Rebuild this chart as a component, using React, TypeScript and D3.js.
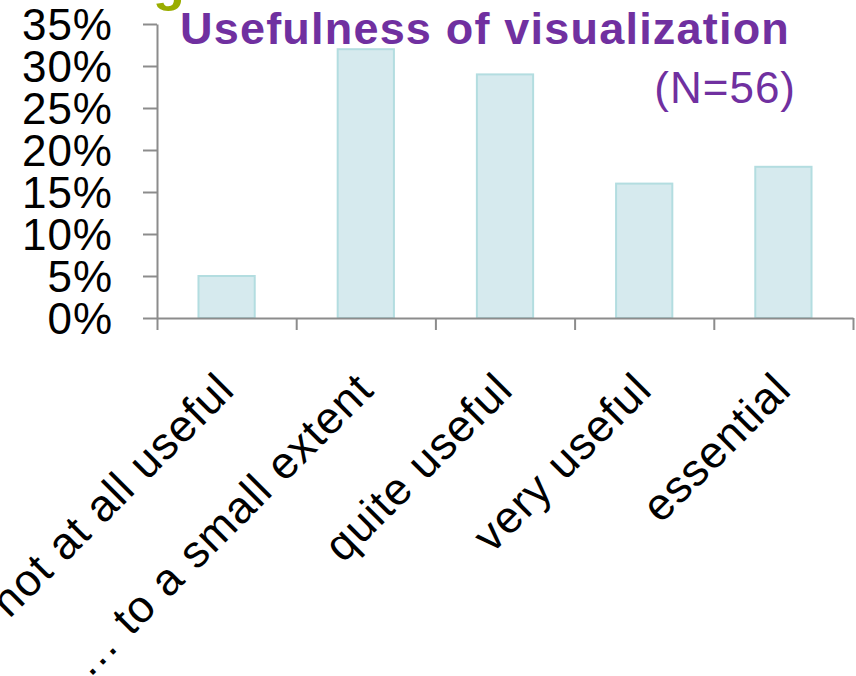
import React, { useEffect, useRef } from "react";
import * as d3 from "d3";

const categories = [
  "not at all useful",
  "… to a small extent",
  "quite useful",
  "very useful",
  "essential",
];
const shares = [0.05, 0.32, 0.29, 0.16, 0.18];
const yTicks = [0, 0.05, 0.1, 0.15, 0.2, 0.25, 0.3, 0.35];

const width = 856;
const height = 676;
const margin = { top: 24, right: 3, bottom: 358, left: 157 };
const font = "'Liberation Sans', Arial, sans-serif";
const purple = "#7030a0";
const axisColor = "#8c8c8c";

export default function App() {
  const svgRef = useRef<SVGSVGElement>(null);

  useEffect(() => {
    const svg = d3.select(svgRef.current);
    svg.selectAll("*").remove();

    const plotW = width - margin.left - margin.right;
    const plotH = height - margin.top - margin.bottom;

    const g = svg
      .append("g")
      .attr("transform", `translate(${margin.left},${margin.top})`);

    const y = d3.scaleLinear().domain([0, 0.35]).range([plotH, 0]);
    const x = d3.scaleBand().domain(categories).range([0, plotW]).padding(0);
    // boundaries between categories carry the ticks
    const edges = d3.scaleLinear().domain([0, categories.length]).range([0, plotW]);
    const barW = x.bandwidth() * 0.404;

    // bars
    g.selectAll("rect.bar")
      .data(shares)
      .enter()
      .append("rect")
      .attr("class", "bar")
      .attr("x", (d, i) => x(categories[i])! + (x.bandwidth() - barW) / 2)
      .attr("y", (d) => y(d))
      .attr("width", barW)
      .attr("height", (d) => plotH - y(d))
      .attr("fill", "#d6eaee")
      .attr("stroke", "#b3dde0")
      .attr("stroke-width", 2);

    // Y axis
    const yAxis = g
      .append("g")
      .call(
        d3
          .axisLeft(y)
          .tickValues(yTicks)
          .tickFormat(d3.format(".0%"))
          .tickSize(14)
          .tickSizeOuter(0)
          .tickPadding(30)
      );
    yAxis.selectAll("path, line").attr("stroke", axisColor).attr("stroke-width", 2);
    yAxis
      .selectAll("text")
      .attr("fill", "#000")
      .attr("dy", "0.36em")
      .style("font-family", font)
      .style("font-size", "44px")
      .style("letter-spacing", "1px");

    // X axis
    const xAxis = g
      .append("g")
      .attr("transform", `translate(0,${plotH})`)
      .call(
        d3
          .axisBottom(edges)
          .tickValues(d3.range(categories.length + 1))
          .tickFormat(() => "")
          .tickSize(12)
          .tickSizeOuter(0)
      );
    xAxis.selectAll("path, line").attr("stroke", axisColor).attr("stroke-width", 2);

    // category labels
    g.append("g")
      .selectAll("text")
      .data(categories)
      .enter()
      .append("text")
      .attr("transform", (d) => {
        const cx = x(d)! + x.bandwidth() / 2 + 10;
        return `translate(${cx},${plotH + 74}) rotate(-45)`;
      })
      .attr("text-anchor", "end")
      .style("font-family", font)
      .style("font-size", "45px")
      .style("letter-spacing", "1.1px")
      .attr("fill", "#000")
      .text((d) => d);

    // titles
    svg
      .append("text")
      .attr("x", 153)
      .attr("y", 0)
      .attr("fill", "#9aad00")
      .style("font-family", font)
      .style("font-size", "52px")
      .style("font-weight", "bold")
      .text("g");

    svg
      .append("text")
      .attr("x", 180)
      .attr("y", 44)
      .attr("fill", purple)
      .style("font-family", font)
      .style("font-size", "45px")
      .style("font-weight", "bold")
      .style("letter-spacing", "1.2px")
      .text("Usefulness of visualization");

    svg
      .append("text")
      .attr("x", 796)
      .attr("y", 103)
      .attr("text-anchor", "end")
      .attr("fill", purple)
      .style("font-family", font)
      .style("font-size", "44px")
      .style("letter-spacing", "1px")
      .text("(N=56)");
  }, []);

  return (
    <svg
      ref={svgRef}
      width={width}
      height={height}
      style={{ position: "absolute", left: 0, top: 0, background: "#fff" }}
    />
  );
}
